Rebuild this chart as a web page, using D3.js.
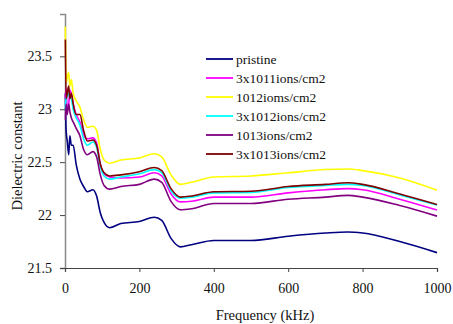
<!DOCTYPE html>
<html>
<head>
<meta charset="utf-8">
<script src="https://cdn.jsdelivr.net/npm/d3@7"></script>
<style>
  body { margin: 0; background: #fff; }
</style>
</head>
<body>
<div id="chart"></div>
<script>
// frequency points (kHz)
const freq = [1, 3, 6, 10, 13, 17, 22, 30, 40, 50, 60, 75, 85, 95, 105, 120, 150, 200, 240, 260, 285, 310, 340, 400, 500, 600, 700, 760, 800, 900, 1000];

// dielectric constant per sample
const pristine = [23.15, 22.8, 22.7, 22.57, 22.75, 22.66, 22.66, 22.48, 22.34, 22.27, 22.22, 22.24, 22.18, 22.02, 21.93, 21.88, 21.92, 21.94, 21.98, 21.95, 21.78, 21.70, 21.72, 21.76, 21.76, 21.80, 21.83, 21.84, 21.83, 21.75, 21.645];
const ions3e11 = [23.1, 23.2, 23.0, 23.05, 23.18, 23.15, 23.05, 22.95, 22.88, 22.76, 22.72, 22.73, 22.68, 22.48, 22.39, 22.36, 22.35, 22.36, 22.40, 22.37, 22.2, 22.125, 22.13, 22.17, 22.17, 22.21, 22.24, 22.25, 22.24, 22.15, 22.047];
const ions1e12 = [23.78, 23.25, 23.3, 23.35, 23.22, 23.28, 23.15, 23.08, 23.02, 22.9, 22.83, 22.84, 22.8, 22.62, 22.52, 22.49, 22.52, 22.54, 22.58, 22.55, 22.38, 22.29, 22.31, 22.36, 22.37, 22.40, 22.43, 22.435, 22.42, 22.35, 22.235];
const ions3e12 = [23.0, 23.1, 23.12, 23.15, 23.12, 23.1, 23.0, 22.92, 22.85, 22.72, 22.66, 22.69, 22.64, 22.46, 22.37, 22.34, 22.36, 22.39, 22.43, 22.40, 22.23, 22.16, 22.17, 22.21, 22.214, 22.26, 22.28, 22.29, 22.28, 22.19, 22.095];
const ions1e13 = [22.9, 23.05, 22.95, 23.05, 22.98, 22.92, 22.88, 22.82, 22.75, 22.62, 22.57, 22.6, 22.55, 22.38, 22.28, 22.245, 22.27, 22.29, 22.34, 22.31, 22.13, 22.05, 22.06, 22.11, 22.11, 22.15, 22.17, 22.186, 22.17, 22.09, 21.99];
const ions3e13 = [23.66, 23.1, 23.15, 23.22, 23.1, 23.15, 23.05, 22.95, 22.95, 22.8, 22.7, 22.71, 22.66, 22.48, 22.4, 22.37, 22.38, 22.41, 22.45, 22.42, 22.25, 22.17, 22.18, 22.22, 22.225, 22.27, 22.29, 22.305, 22.29, 22.2, 22.1];

const seriesNames = ["pristine", "3x1011ions/cm2", "1012ioms/cm2", "3x1012ions/cm2", "1013ions/cm2", "3x1013ions/cm2"];
const seriesColors = ["#000080", "#ff00ff", "#ffff00", "#00ffff", "#800080", "#800000"];
const seriesValues = [pristine, ions3e11, ions1e12, ions3e12, ions1e13, ions3e13];

const xTicks = [0, 200, 400, 600, 800, 1000];
const yTicks = [21.5, 22, 22.5, 23, 23.5];

const FONT = "Liberation Serif";

const width = 453, height = 324;
const margin = { left: 65, right: 16, top: 14, bottom: 56 };

const svg = d3.select("#chart").append("svg")
  .attr("width", width)
  .attr("height", height)
  .attr("font-family", FONT);

const x = d3.scaleLinear().domain([0, 1000]).range([margin.left, width - margin.right]);
const y = d3.scaleLinear().domain([21.5, 23.9]).range([height - margin.bottom, margin.top]);

// y axis
const yAxis = svg.append("g")
  .attr("transform", `translate(${margin.left},0)`)
  .call(d3.axisLeft(y).tickValues(yTicks).tickSize(5).tickPadding(8).tickFormat(d3.format("")));
yAxis.attr("font-family", FONT).attr("font-size", 14);
yAxis.select(".domain").attr("stroke", "#888").attr("stroke-width", 1.5);
yAxis.selectAll(".tick line").attr("stroke", "#444");
yAxis.selectAll("text").attr("fill", "#111");

// x axis
const xAxis = svg.append("g")
  .attr("transform", `translate(0,${y(21.5)})`)
  .call(d3.axisBottom(x).tickValues(xTicks).tickSize(4).tickPadding(11).tickFormat(d3.format("d")));
xAxis.attr("font-family", FONT).attr("font-size", 14);
xAxis.select(".domain").attr("stroke", "#444").attr("stroke-width", 1.2);
xAxis.selectAll(".tick line").attr("stroke", "#444");
xAxis.selectAll("text").attr("fill", "#111");

// lines
const line = d3.line()
  .x((d, i) => x(freq[i]))
  .y(d => y(d))
  .curve(d3.curveMonotoneX);

svg.append("g")
  .selectAll("path")
  .data(seriesValues)
  .enter().append("path")
  .attr("fill", "none")
  .attr("stroke", (d, i) => seriesColors[i])
  .attr("stroke-width", 1.6)
  .attr("d", line);

// legend
const legend = svg.append("g").attr("transform", "translate(206,59)");
const rows = legend.selectAll("g")
  .data(seriesNames)
  .enter().append("g")
  .attr("transform", (d, i) => `translate(0,${i * 19})`);
rows.append("line")
  .attr("x1", 0).attr("x2", 27)
  .attr("stroke", (d, i) => seriesColors[i])
  .attr("stroke-width", 1.8);
rows.append("text")
  .attr("x", 30)
  .attr("dy", "0.35em")
  .attr("fill", "#111")
  .attr("font-family", FONT)
  .attr("font-size", 13.5)
  .text(d => d);

// axis titles
svg.append("text")
  .attr("x", 265)
  .attr("y", 320)
  .attr("text-anchor", "middle")
  .attr("fill", "#111")
  .attr("font-family", FONT)
  .attr("font-size", 14.5)
  .text("Frequency (kHz)");

svg.append("text")
  .attr("transform", `translate(22,156) rotate(-90)`)
  .attr("text-anchor", "middle")
  .attr("fill", "#111")
  .attr("font-family", FONT)
  .attr("font-size", 14.5)
  .text("Dielectric constant");
</script>
</body>
</html>
